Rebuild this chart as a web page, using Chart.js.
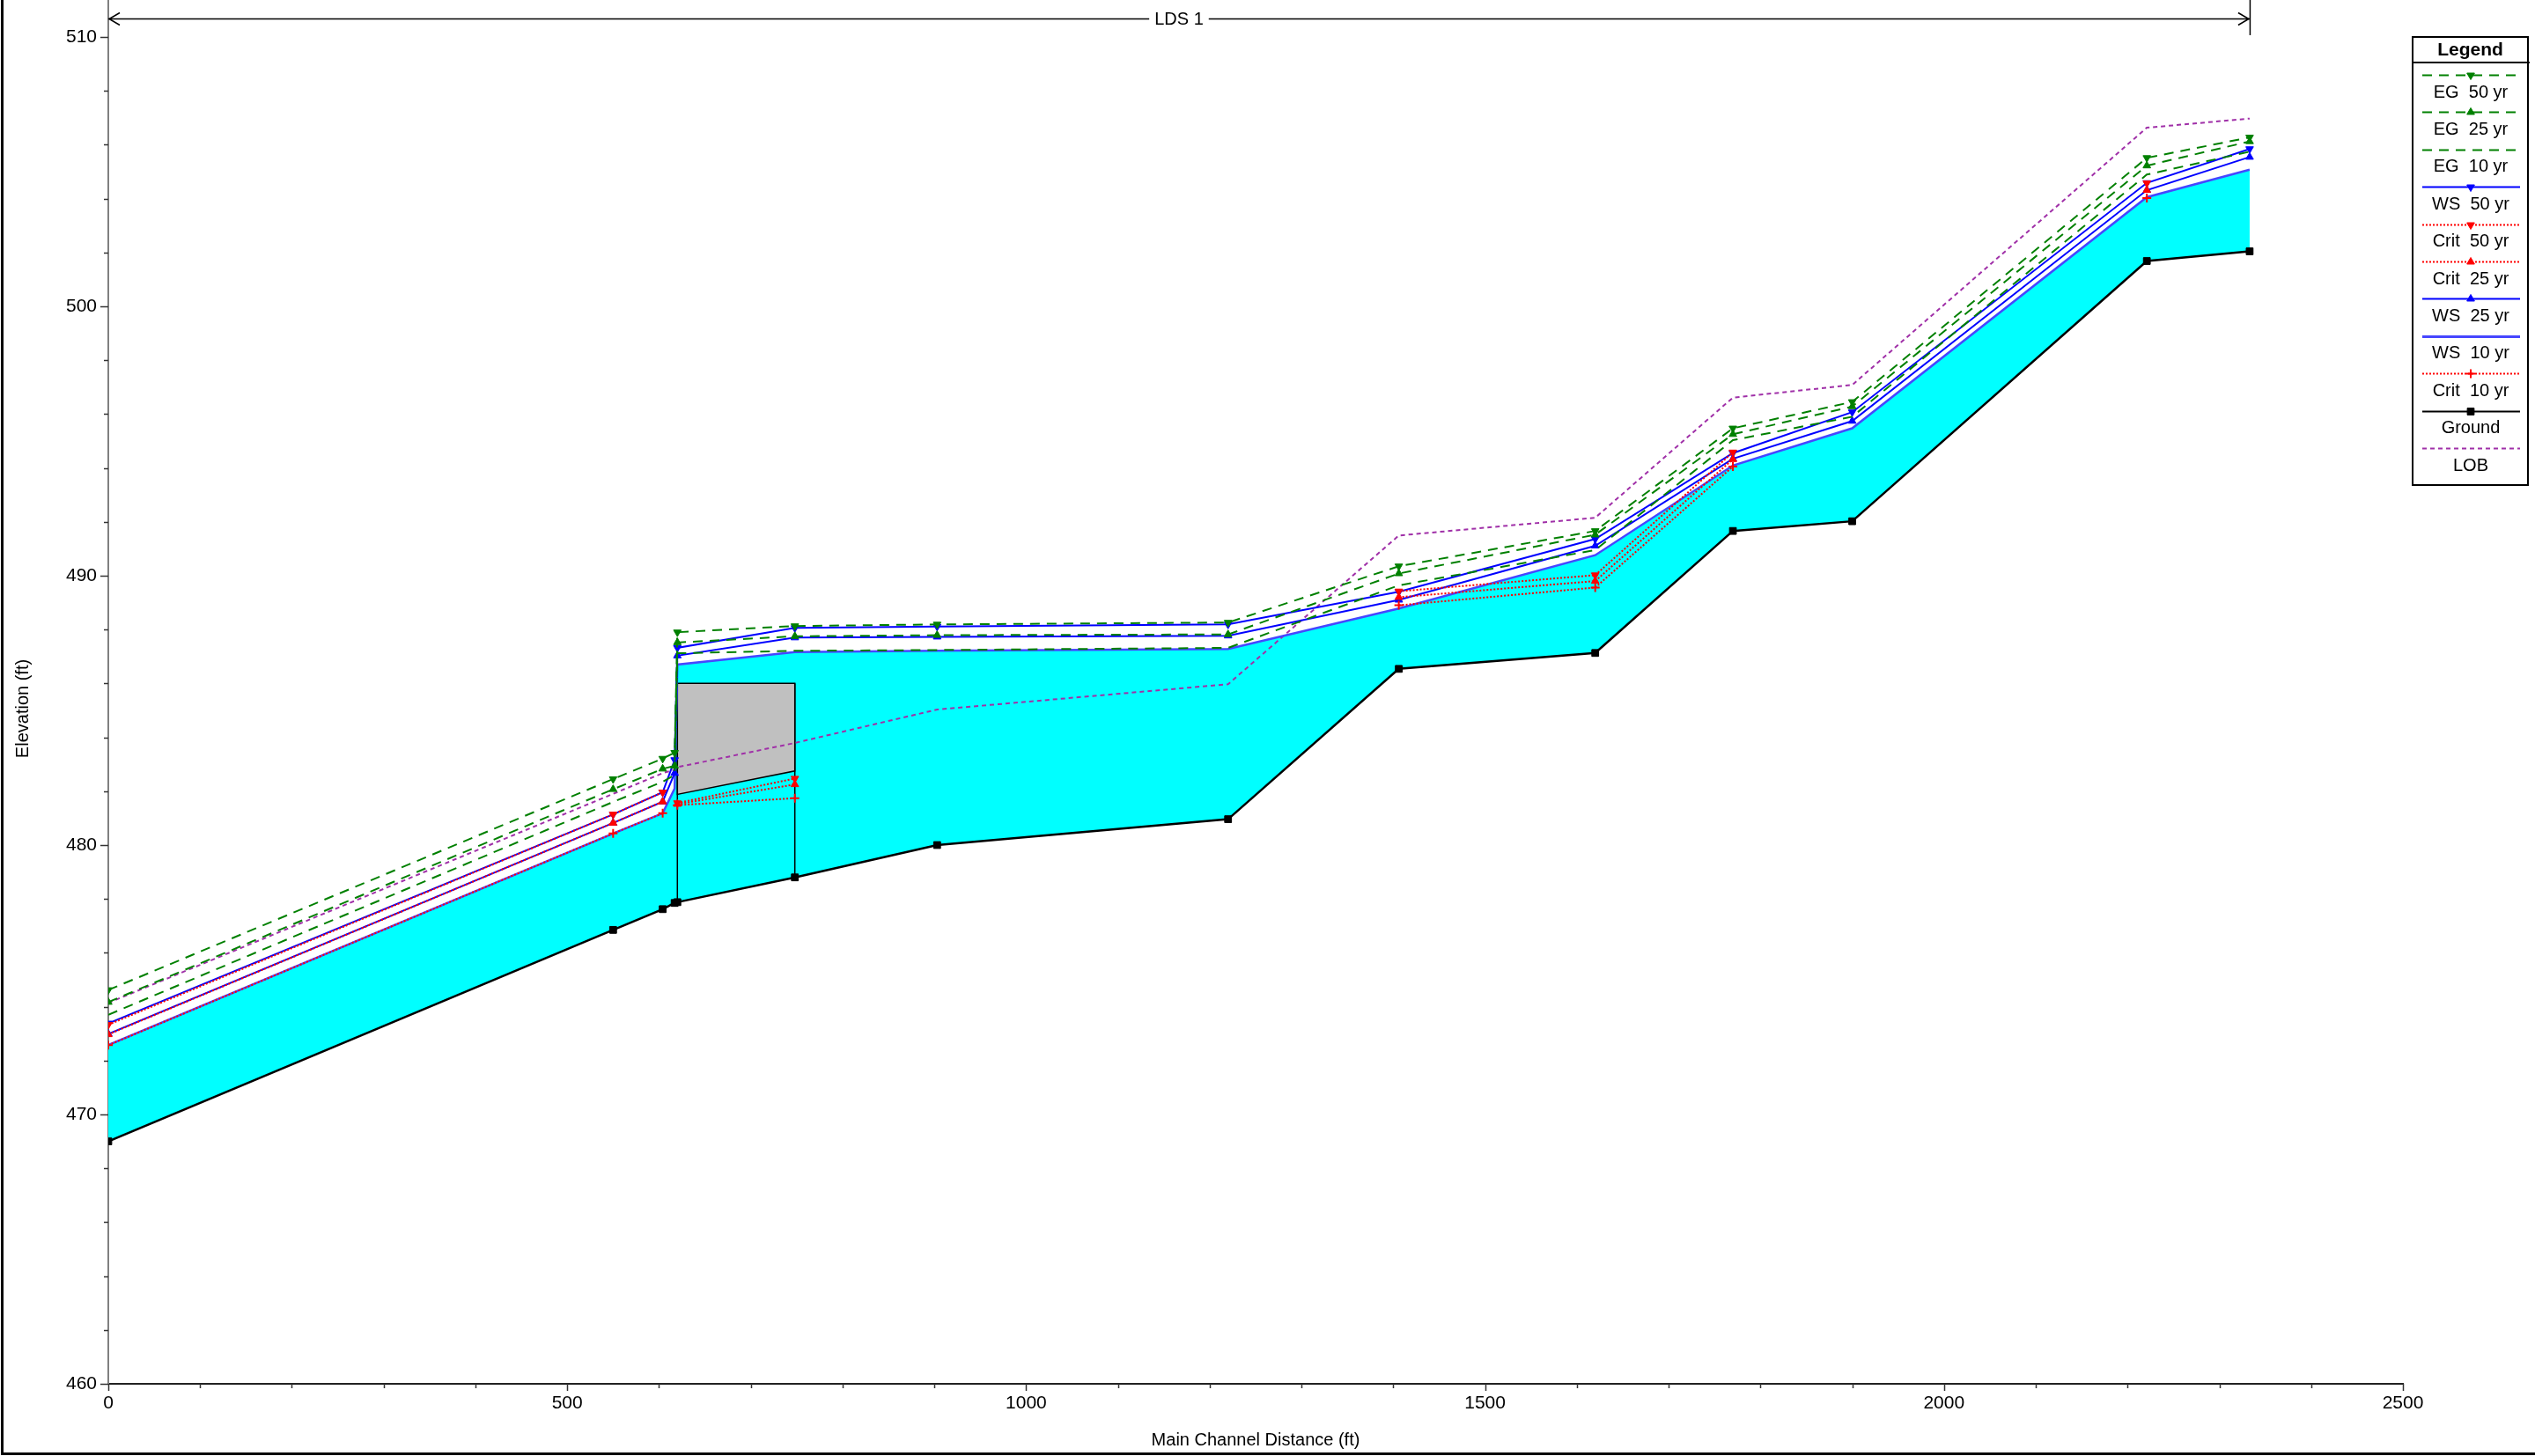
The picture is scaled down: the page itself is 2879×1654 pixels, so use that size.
<!DOCTYPE html>
<html>
<head>
<meta charset="utf-8">
<title>Profile Plot</title>
<script src="https://cdn.jsdelivr.net/npm/chart.js@4.4.1/dist/chart.umd.min.js"></script>
<style>
  html, body { margin: 0; padding: 0; background: #ffffff; overflow: hidden; }
  #wrap { position: relative; width: 2879px; height: 1654px; }
  canvas { display: block; }
</style>
</head>
<body>
<div id="wrap"><canvas id="profile" width="2879" height="1654"></canvas></div>
<script>
// Main channel distance of each cross section (ft)
const stations = [0, 550, 604, 617, 620, 748, 903, 1220, 1406, 1620, 1770, 1900, 2221, 2333];

// Elevations (ft) per profile at each station
const ground = [469.0, 476.85, 477.62, 477.85, 477.88, 478.8, 480.0, 480.96, 486.54, 487.13, 491.66, 492.02, 501.68, 502.04];
const lob    = [474.14, 481.9, 482.67, 482.8, 482.89, 483.79, 485.03, 485.97, 491.49, 492.15, 496.61, 497.08, 506.63, 506.97];

const eg50 = [474.62, 482.45, 483.21, 483.43, 487.90, 488.13, 488.19, 488.26, 490.35, 491.66, 495.47, 496.45, 505.51, 506.27];
const eg25 = [474.17, 482.07, 482.83, 482.94, 487.52, 487.75, 487.79, 487.82, 490.08, 491.52, 495.25, 496.28, 505.22, 506.12];
const eg10 = [473.70, 481.60, 482.35, 482.60, 487.12, 487.21, 487.24, 487.32, 489.64, 490.95, 495.03, 495.90, 504.89, 505.74];

const ws50 = [473.38, 481.14, 481.96, 483.16, 487.32, 488.06, 488.11, 488.19, 489.40, 491.36, 494.55, 496.07, 504.58, 505.84];
const ws25 = [472.99, 480.82, 481.61, 482.67, 487.03, 487.70, 487.73, 487.77, 489.10, 491.11, 494.34, 495.74, 504.31, 505.54];
const ws10 = [472.58, 480.43, 481.18, 482.10, 486.70, 487.16, 487.21, 487.28, 488.78, 490.76, 494.09, 495.47, 504.05, 505.07];

const crit50 = [473.33, 481.14, 481.96, null, 481.56, 482.47, null, null, 489.42, 490.02, 494.58, null, 504.57, null];
const crit25 = [472.97, 480.82, 481.61, null, 481.52, 482.25, null, null, 489.20, 489.80, 494.32, null, 504.31, null];
const crit10 = [472.57, 480.43, 481.18, null, 481.48, 481.74, null, null, 488.90, 489.56, 494.05, null, 504.02, null];

// Bridge deck: faces, high chord and low chord (ft)
const deckStations = [620, 748];
const deckHighChord = [486.0, 486.0];
const deckLowChord = [481.88, 482.75];

// Axis ticks
const xMajorTicks = [0, 500, 1000, 1500, 2000, 2500];
const xMinorStep = 100;
const yMajorTicks = [460, 470, 480, 490, 500, 510];
const yMinorStep = 2;
const xRange = [0, 2500];
const yRange = [460, 511.37];

const reachLabel = 'LDS 1';

const pts = (vals) => stations.map((s, i) => ({ x: s, y: vals[i] }));

const GREEN = '#008000';
const BLUE = '#0000ff';
const BLUE_LIGHT = '#4646ff';
const RED = '#ff0000';
const PURPLE = '#a030a8';

const EG_DASH = [11, 8];
const CRIT_DASH = [2, 2];
const LOB_DASH = [5, 4];

function lineSet(label, vals, color, dash, style, rot, width) {
  return {
    label, data: pts(vals), borderColor: color, backgroundColor: color,
    borderWidth: width || 2, borderDash: dash || [], fill: false, tension: 0,
    pointStyle: style || false, pointRotation: rot || 0,
    pointRadius: style ? (style === 'rect' ? 5.5 : 5) : 0,
    pointBorderWidth: style === 'cross' ? 2 : 1, pointBorderColor: color, pointBackgroundColor: color,
    spanGaps: false, showLine: true
  };
}

// Legend entries, in display order
const legendItems = [
  { text: 'EG  50 yr', color: GREEN, dash: EG_DASH, style: 'triangle', rot: 180 },
  { text: 'EG  25 yr', color: GREEN, dash: EG_DASH, style: 'triangle', rot: 0 },
  { text: 'EG  10 yr', color: GREEN, dash: EG_DASH, style: null },
  { text: 'WS  50 yr', color: BLUE, dash: [], style: 'triangle', rot: 180 },
  { text: 'Crit  50 yr', color: RED, dash: CRIT_DASH, style: 'triangle', rot: 180 },
  { text: 'Crit  25 yr', color: RED, dash: CRIT_DASH, style: 'triangle', rot: 0 },
  { text: 'WS  25 yr', color: BLUE, dash: [], style: 'triangle', rot: 0 },
  { text: 'WS  10 yr', color: BLUE_LIGHT, dash: [], style: null, width: 3 },
  { text: 'Crit  10 yr', color: RED, dash: CRIT_DASH, style: 'cross' },
  { text: 'Ground', color: '#000000', dash: [], style: 'rect' },
  { text: 'LOB', color: PURPLE, dash: LOB_DASH, style: null }
];

const datasets = [
  lineSet('EG 50 yr', eg50, GREEN, EG_DASH, 'triangle', 180),
  lineSet('EG 25 yr', eg25, GREEN, EG_DASH, 'triangle', 0),
  lineSet('EG 10 yr', eg10, GREEN, EG_DASH, null),
  lineSet('Crit 10 yr', crit10, RED, CRIT_DASH, 'cross'),
  lineSet('Crit 50 yr', crit50, RED, CRIT_DASH, 'triangle', 180),
  lineSet('Crit 25 yr', crit25, RED, CRIT_DASH, 'triangle', 0),
  lineSet('WS 50 yr', ws50, BLUE, [], 'triangle', 180),
  lineSet('WS 25 yr', ws25, BLUE, [], 'triangle', 0),
  lineSet('WS 10 yr', ws10, BLUE_LIGHT, [], null, 0, 2.5),
  lineSet('LOB', lob, PURPLE, LOB_DASH, null),
  lineSet('Ground', ground, '#000000', [], 'rect', 0, 2.5),
  // bridge face lines
  { label: 'face1', data: [{ x: deckStations[0], y: ground[stations.indexOf(deckStations[0])] }, { x: deckStations[0], y: deckHighChord[0] }],
    borderColor: '#000', borderWidth: 1.5, pointRadius: 0, fill: false, showLine: true },
  { label: 'face2', data: [{ x: deckStations[1], y: ground[stations.indexOf(deckStations[1])] }, { x: deckStations[1], y: deckHighChord[1] }],
    borderColor: '#000', borderWidth: 1.5, pointRadius: 0, fill: false, showLine: true },
  // bridge deck
  { label: 'deck', data: [
      { x: deckStations[0], y: deckHighChord[0] }, { x: deckStations[1], y: deckHighChord[1] },
      { x: deckStations[1], y: deckLowChord[1] }, { x: deckStations[0], y: deckLowChord[0] },
      { x: deckStations[0], y: deckHighChord[0] }],
    borderColor: '#000', borderWidth: 1.5, backgroundColor: '#c0c0c0', pointRadius: 0, fill: 'shape', showLine: true },
  // water between lowest water surface and ground
  { label: 'water', data: pts(ws10), borderWidth: 0, borderColor: 'rgba(0,0,0,0)', pointRadius: 0,
    backgroundColor: '#00ffff', fill: { target: 10 }, showLine: true }
];

// Axis tick marks, legend, reach marker and frame
const decorations = {
  id: 'decorations',
  afterDraw(chart) {
    const ctx = chart.ctx;
    const xs = chart.scales.x, ys = chart.scales.y;
    const area = chart.chartArea;
    ctx.save();

    // tick marks
    ctx.strokeStyle = '#333';
    ctx.lineWidth = 1.5;
    for (let v = yRange[0]; v <= 510 + 1e-6; v += yMinorStep) {
      const y = Math.round(ys.getPixelForValue(v)) + 0.5;
      const len = yMajorTicks.includes(v) ? 9 : 5;
      ctx.beginPath(); ctx.moveTo(area.left - len, y); ctx.lineTo(area.left, y); ctx.stroke();
    }
    for (let v = xRange[0]; v <= xRange[1] + 1e-6; v += xMinorStep) {
      const x = Math.round(xs.getPixelForValue(v)) + 0.5;
      const len = xMajorTicks.includes(v) ? 8 : 5;
      ctx.beginPath(); ctx.moveTo(x, area.bottom); ctx.lineTo(x, area.bottom + len); ctx.stroke();
    }

    // y axis title
    ctx.fillStyle = '#000';
    ctx.font = '20px "Liberation Sans", Arial, sans-serif';
    ctx.textAlign = 'center'; ctx.textBaseline = 'middle';
    ctx.save();
    ctx.translate(26, 805);
    ctx.rotate(-Math.PI / 2);
    ctx.fillText('Elevation (ft)', 0, 0);
    ctx.restore();

    // reach extent marker
    const rx0 = xs.getPixelForValue(stations[0]);
    const rx1 = xs.getPixelForValue(stations[stations.length - 1]);
    const ry = 21.5;
    ctx.strokeStyle = '#000'; ctx.lineWidth = 1.5;
    ctx.beginPath(); ctx.moveTo(rx0, ry); ctx.lineTo(rx1, ry); ctx.stroke();
    ctx.beginPath(); ctx.moveTo(rx0 + 13, ry - 7); ctx.lineTo(rx0 + 1, ry); ctx.lineTo(rx0 + 13, ry + 7); ctx.stroke();
    ctx.beginPath(); ctx.moveTo(rx1 - 13, ry - 7); ctx.lineTo(rx1 - 1, ry); ctx.lineTo(rx1 - 13, ry + 7); ctx.stroke();
    ctx.beginPath(); ctx.moveTo(rx1 + 0.5, 0); ctx.lineTo(rx1 + 0.5, 40); ctx.stroke();
    ctx.font = '20px "Liberation Sans", Arial, sans-serif';
    const mid = (rx0 + rx1) / 2;
    const tw = ctx.measureText(reachLabel).width;
    ctx.fillStyle = '#fff';
    ctx.fillRect(mid - tw / 2 - 6, ry - 10, tw + 12, 20);
    ctx.fillStyle = '#000';
    ctx.fillText(reachLabel, mid, ry + 1);

    // legend box
    const L = 2740, R = 2871, T = 42, B = 551;
    ctx.fillStyle = '#fff';
    ctx.fillRect(L, T, R - L, B - T);
    ctx.strokeStyle = '#000'; ctx.lineWidth = 2;
    ctx.strokeRect(L, T, R - L, B - T);
    ctx.fillStyle = '#000';
    ctx.font = 'bold 21px "Liberation Sans", Arial, sans-serif';
    ctx.fillText('Legend', (L + R) / 2, 57);
    ctx.beginPath(); ctx.moveTo(L, 71); ctx.lineTo(R + 2, 71); ctx.stroke();
    ctx.font = '20px "Liberation Sans", Arial, sans-serif';
    const cx = 2806;
    legendItems.forEach((it, i) => {
      const ly = Math.round(85 + 42.4 * i) + 0.5;
      ctx.strokeStyle = it.color; ctx.lineWidth = it.width || 2;
      ctx.setLineDash(it.dash);
      ctx.beginPath(); ctx.moveTo(2751, ly); ctx.lineTo(2862, ly); ctx.stroke();
      ctx.setLineDash([]);
      if (it.style) {
        ctx.fillStyle = it.color; ctx.strokeStyle = it.color;
        ctx.lineWidth = it.style === 'cross' ? 2 : 1;
        Chart.helpers.drawPoint(ctx, {
          pointStyle: it.style, rotation: it.rot || 0,
          radius: it.style === 'rect' ? 5.5 : 5, borderWidth: ctx.lineWidth
        }, cx, ly);
      }
      ctx.fillStyle = '#000';
      ctx.fillText(it.text, cx, 105 + 42.4 * i);
    });

    // outer frame
    ctx.strokeStyle = '#000'; ctx.lineWidth = 3;
    ctx.beginPath(); ctx.moveTo(2.5, 0); ctx.lineTo(2.5, 1651.5); ctx.lineTo(2879, 1651.5); ctx.stroke();
    ctx.restore();
  }
};

new Chart(document.getElementById('profile'), {
  type: 'line',
  data: { datasets },
  options: {
    responsive: false,
    animation: false,
    devicePixelRatio: 1,
    layout: { autoPadding: false, padding: { left: 0, right: 150, top: 0, bottom: 0 } },
    plugins: {
      legend: { display: false },
      tooltip: { enabled: false },
      filler: { drawTime: 'beforeDatasetsDraw', propagate: false }
    },
    scales: {
      x: {
        type: 'linear', min: xRange[0], max: xRange[1],
        afterBuildTicks: (s) => { s.ticks = xMajorTicks.map(v => ({ value: v })); },
        afterFit: (s) => { s.height = 82; s.paddingLeft = 0; s.paddingRight = 0; s.paddingTop = 0; s.paddingBottom = 0; },
        grid: { display: false, drawTicks: false },
        border: { display: true, color: '#222', width: 2 },
        ticks: { padding: 10, color: '#000', maxRotation: 0, autoSkip: false,
                 callback: (v) => String(v),
                 font: { family: '"Liberation Sans", Arial, sans-serif', size: 21 } },
        title: { display: true, text: 'Main Channel Distance (ft)', color: '#000',
                 font: { family: '"Liberation Sans", Arial, sans-serif', size: 20 },
                 padding: { top: 0, bottom: 6 } }
      },
      y: {
        type: 'linear', min: yRange[0], max: yRange[1],
        afterBuildTicks: (s) => { s.ticks = yMajorTicks.map(v => ({ value: v })); },
        afterFit: (s) => { s.width = 123; s.paddingTop = 0; s.paddingBottom = 0; },
        grid: { display: false, drawTicks: false },
        border: { display: true, color: '#808080', width: 2 },
        ticks: { padding: 13, color: '#000', autoSkip: false,
                 callback: (v) => String(v),
                 font: { family: '"Liberation Sans", Arial, sans-serif', size: 21 } },
        title: { display: false }
      }
    }
  },
  plugins: [decorations]
});
</script>
</body>
</html>
